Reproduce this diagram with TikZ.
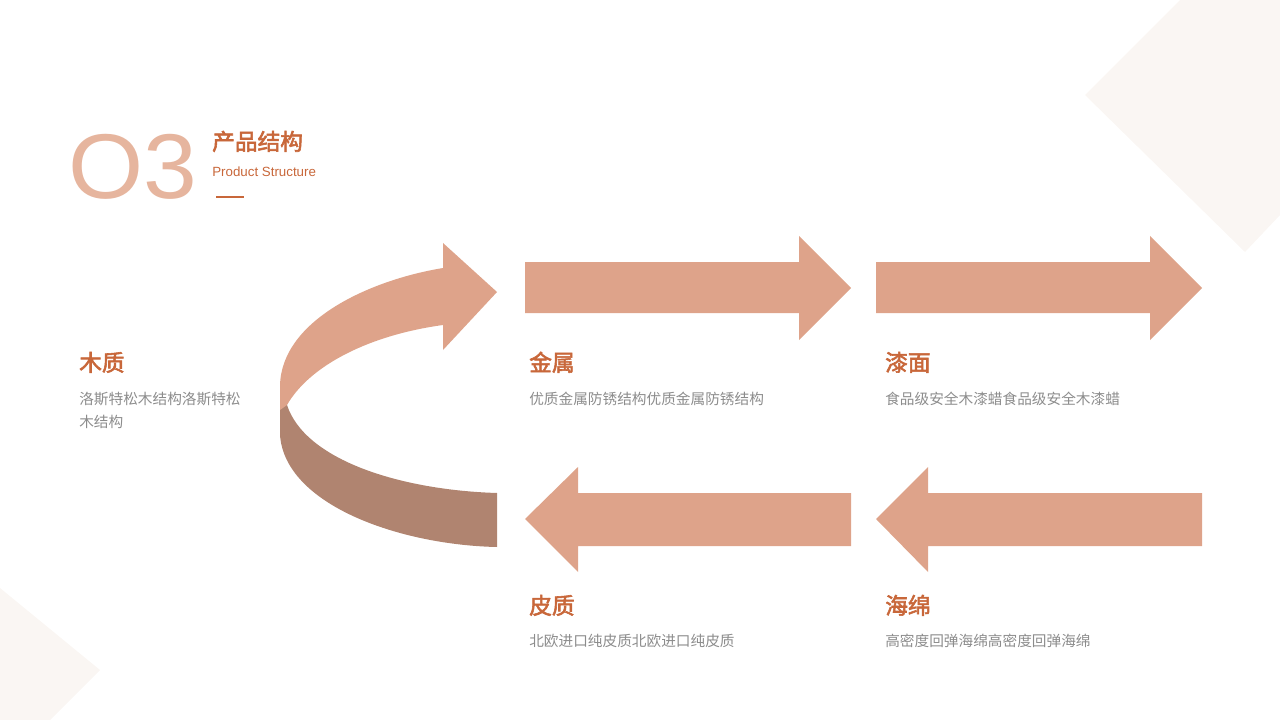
\documentclass[tikz,border=0pt]{standalone}
\usepackage{fontspec}
\setmainfont{Liberation Sans}
\newfontfamily\cjk{Noto Sans CJK SC}[AutoFakeBold=2.5]
\newfontfamily\lat{Liberation Sans}
\definecolor{ar}{HTML}{DEA38A}
\definecolor{ard}{HTML}{B08470}
\definecolor{tt}{HTML}{C8673A}
\definecolor{big}{HTML}{E6B59E}
\definecolor{gr}{HTML}{8C8C8C}
\definecolor{bgc}{HTML}{FAF6F3}
\tikzset{
 head/.style={anchor=base west,font=\cjk\bfseries\fontsize{17}{18}\selectfont,text=tt,inner sep=0},
 desc/.style={anchor=north west,font=\cjk\fontsize{11}{17.5}\selectfont,text=gr,inner sep=0,align=left},
}
\begin{document}
\begin{tikzpicture}[x=0.75pt,y=-0.75pt]
\useasboundingbox (0,0) rectangle (1280,720);
\fill[bgc] (1085,95) -- (1180,0) -- (1280,0) -- (1280,215) -- (1245,252) -- cycle;
\fill[bgc] (0,588) -- (100,670) -- (50,720) -- (0,720) -- cycle;
% title
\node[anchor=base west,inner sep=0,font=\lat\fontsize{69}{72}\selectfont,text=big,xscale=1.05] (num) at (68,199) {O3};
\node[head] (tit) at (212,150) {产品结构};
\node[anchor=base west,inner sep=0,font=\lat\fontsize{10}{12}\selectfont,text=tt] (sub) at (212,177) {Product Structure};
\draw[tt,line width=0.8pt] (216,197) coordinate (l1) -- (244,197) coordinate (l2);
% curved arrow
\fill[ard] (280,385) -- (280,435) .. controls (285,505) and (400,545) .. (497,547) -- (497,493) .. controls (400,490) and (305,460) .. (287,405) -- cycle;
\fill[ar] (280,410) -- (280,385) .. controls (282,320) and (370,280) .. (443,268) -- (443,243) -- (497,292) -- (443,350) -- (443,325) .. controls (370,335) and (310,365) .. (287,405) -- cycle;
% straight arrows
\fill[ar] (525,262) -- (799,262) -- (799,236) -- (851,288) -- (799,340) -- (799,313) -- (525,313) -- cycle;
\fill[ar] (876,262) -- (1150,262) -- (1150,236) -- (1202,288) -- (1150,340) -- (1150,313) -- (876,313) -- cycle;
\fill[ar] (851,493) -- (578,493) -- (578,467) -- (525,519) -- (578,572) -- (578,546) -- (851,546) -- cycle;
\fill[ar] (1202,493) -- (928,493) -- (928,467) -- (876,519) -- (928,572) -- (928,546) -- (1202,546) -- cycle;
% texts
\node[head] (h1) at (79,371) {木质};
\node[desc] (d1) at (79,392) {洛斯特松木结构洛斯特松\\木结构};
\node[head] (h2) at (529,371) {金属};
\node[desc] (d2) at (529,392) {优质金属防锈结构优质金属防锈结构};
\node[head] (h3) at (885,371) {漆面};
\node[desc] (d3) at (885,392) {食品级安全木漆蜡食品级安全木漆蜡};
\node[head] (h4) at (529,614) {皮质};
\node[desc] (d4) at (529,634) {北欧进口纯皮质北欧进口纯皮质};
\node[head] (h5) at (885,614) {海绵};
\node[desc] (d5) at (885,634) {高密度回弹海绵高密度回弹海绵};
\end{tikzpicture}
\end{document}
